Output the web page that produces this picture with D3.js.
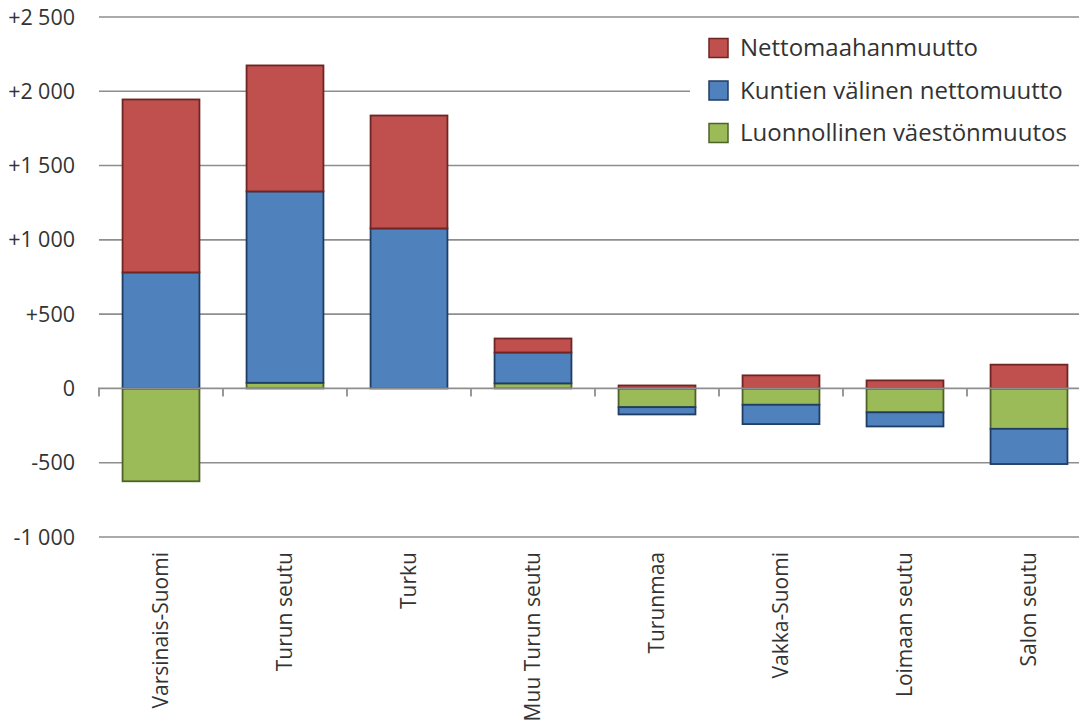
<!DOCTYPE html>
<html>
<head>
<meta charset="utf-8">
<script src="https://cdn.jsdelivr.net/npm/d3@7"></script>
<style>
  body { margin: 0; background: #fff; }
  svg { font-family: "Open Sans", "Noto Sans", sans-serif; }
</style>
</head>
<body>
<div class="chart"></div>
<script>
const w = 1079;
const h = 722;

// data
const regions = ["Varsinais-Suomi", "Turun seutu", "Turku", "Muu Turun seutu",
                 "Turunmaa", "Vakka-Suomi", "Loimaan seutu", "Salon seutu"];
const luonnollinen = [-625, 38, 0, 34, -126, -110, -161, -272];
const kuntienValinen = [781, 1288, 1077, 208, -49, -130, -95, -237];
const nettomaahanmuutto = [1164, 848, 760, 94, 20, 88, 54, 160];
const yTicks = [-1000, -500, 0, 500, 1000, 1500, 2000, 2500];

const series = [
  { key: "luonnollinen", name: "Luonnollinen väestönmuutos", values: luonnollinen, fill: "#9BBB59", stroke: "#4F6228" },
  { key: "kuntien", name: "Kuntien välinen nettomuutto", values: kuntienValinen, fill: "#4F81BD", stroke: "#1F3D63" },
  { key: "netto", name: "Nettomaahanmuutto", values: nettomaahanmuutto, fill: "#C0504D", stroke: "#6E2523" }
];

const rows = regions.map((r, i) => {
  const o = { region: r };
  series.forEach(s => { o[s.key] = s.values[i]; });
  return o;
});

const svg = d3.select(".chart")
  .append("svg")
  .attr("width", w)
  .attr("height", h);

const x = d3.scaleBand()
  .domain(regions)
  .range([99, 1091])
  .paddingInner(0.38)
  .paddingOuter(0.19);

const y = d3.scaleLinear()
  .domain([-1000, 2500])
  .range([537, 17]);

// gridlines
svg.append("g")
  .selectAll("line")
  .data(yTicks.filter(d => d !== 0))
  .enter()
    .append("line")
    .attr("x1", 99)
    .attr("x2", w)
    .attr("y1", d => y(d))
    .attr("y2", d => y(d))
    .attr("stroke", "#8e8e8e")
    .attr("stroke-width", 1.6);

// y labels
const fmt = d => {
  const s = d3.format(",")(Math.abs(d)).replace(/,/g, "\u2005");
  return d > 0 ? "+" + s : d < 0 ? "-" + s : "0";
};
svg.append("g")
  .selectAll("text")
  .data(yTicks)
  .enter()
    .append("text")
    .attr("x", 75)
    .attr("y", d => y(d))
    .attr("dy", "0.35em")
    .attr("text-anchor", "end")
    .attr("font-size", 21.5)
    .attr("fill", "#333")
    .text(fmt);

// stacked bars
const stack = d3.stack()
  .keys(series.map(s => s.key))
  .offset(d3.stackOffsetDiverging);
const stacked = stack(rows);

svg.append("g")
  .selectAll("g")
  .data(stacked)
  .enter()
    .append("g")
    .attr("fill", (d, i) => series[i].fill)
    .attr("stroke", (d, i) => series[i].stroke)
    .attr("stroke-width", 1.8)
  .selectAll("rect")
  .data(d => d)
  .enter()
    .append("rect")
    .attr("x", d => x(d.data.region))
    .attr("width", x.bandwidth())
    .attr("y", d => y(Math.max(d[0], d[1])))
    .attr("height", d => Math.abs(y(d[0]) - y(d[1])));

// zero axis with ticks
const step = x.step();
const axis = svg.append("g").attr("stroke", "#8e8e8e").attr("stroke-width", 1.8);
axis.append("line")
  .attr("x1", 98).attr("x2", w)
  .attr("y1", y(0)).attr("y2", y(0));
axis.selectAll("line.tick")
  .data(d3.range(regions.length + 1))
  .enter()
    .append("line")
    .attr("class", "tick")
    .attr("x1", i => 99 + i * step)
    .attr("x2", i => 99 + i * step)
    .attr("y1", y(0))
    .attr("y2", y(0) + 8);

// category labels
svg.append("g")
  .selectAll("text")
  .data(regions)
  .enter()
    .append("text")
    .attr("transform", d => "translate(" + (x(d) + x.bandwidth() / 2) + ",552) rotate(-90)")
    .attr("dy", "0.35em")
    .attr("text-anchor", "end")
    .attr("font-size", 21)
    .attr("fill", "#333")
    .text(d => d);

// legend
const legend = svg.append("g");
legend.append("rect")
  .attr("x", 690).attr("y", 26)
  .attr("width", w - 690).attr("height", 128)
  .attr("fill", "#fff");
const legendItems = series.slice().reverse();
const li = legend.selectAll("g.item")
  .data(legendItems)
  .enter()
    .append("g")
    .attr("class", "item")
    .attr("transform", (d, i) => "translate(709," + (48 + i * 42.5) + ")");
li.append("rect")
  .attr("x", 0).attr("y", -9.5)
  .attr("width", 19).attr("height", 19)
  .attr("fill", d => d.fill)
  .attr("stroke", d => d.stroke)
  .attr("stroke-width", 1.5);
li.append("text")
  .attr("x", 31)
  .attr("dy", "0.35em")
  .attr("font-size", 24)
  .attr("fill", "#333")
  .text(d => d.name);
</script>
</body>
</html>
